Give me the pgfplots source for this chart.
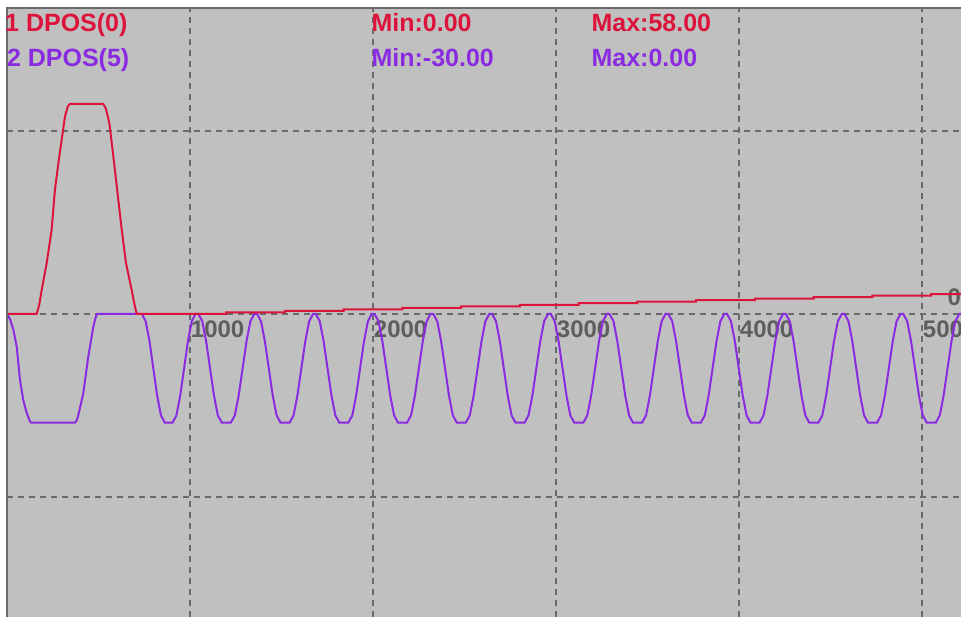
\documentclass[border=0pt]{standalone}
\usepackage{fontspec}
\setmainfont{Liberation Sans}
\usepackage{pgfplots}
\pgfplotsset{compat=1.18}
\definecolor{bg}{HTML}{C0C0C0}
\definecolor{gridc}{HTML}{6A6A6A}
\definecolor{cred}{HTML}{DC143C}
\definecolor{cpur}{HTML}{8A2BE2}
\definecolor{lbl}{HTML}{5E5E5E}
\definecolor{frame}{HTML}{6A6A6A}
\begin{document}
\begin{tikzpicture}
\useasboundingbox (0pt,0pt) rectangle (480.5pt,308.5pt);
\fill[white] (0pt,0pt) rectangle (480.5pt,308.5pt);
\clip (0pt,0pt) rectangle (480.5pt,308.5pt);
\begin{axis}[
  at={(3.5pt,0pt)}, anchor=south west,
  scale only axis, width=477pt, height=304.5pt,
  xmin=0, xmax=5213, ymin=-83.7, ymax=84.5,
  axis background/.style={fill=bg},
  axis x line*=middle,
  axis line style={draw=none},
  xtick={1000,2000,3000,4000,5000},
  xticklabels={1000,2000,3000,4000,5000},
  ytick={-50.5,0,50.5},
  yticklabels={,0,},
  yticklabel pos=right,
  major tick length=0pt,
  tick style={draw=none},
  xticklabel style={anchor=north west, inner sep=0pt, xshift=0.25pt, yshift=-3pt, text=lbl, font=\bfseries\fontsize{12}{14}\selectfont},
  yticklabel style={anchor=south east, inner sep=0pt, xshift=0.15pt, yshift=4pt, text=lbl, font=\bfseries\fontsize{12}{14}\selectfont},
  grid=major,
  major grid style={gridc, line width=1pt, dash pattern=on 3pt off 2.5pt},
  clip=true,
]
% purple: DPOS(5)
\addplot[cpur, line width=1pt] coordinates {
(0,0) (18,-1.6) (35,-4.4) (53,-9) (71,-18.2) (89,-23.8) (108,-27.4) (126,-29.7) (132,-30)
(372,-30) (381,-29.4) (390,-27.9) (417,-21.9) (444,-11.8) (472,-3.5) (484,-1) (492,0)
(737,0) (757.8,-2.01) (778.7,-7.5) (799.5,-15) (820.3,-22.5) (841.2,-27.99) (862,-30)
(905,-30) (925.9,-27.99) (946.8,-22.5) (967.8,-15) (988.7,-7.5) (1009.6,-2.01) (1030.5,0)
(1045.5,0) (1067,-2.01) (1088,-7.5) (1109.5,-15) (1131,-22.5) (1152,-27.99) (1173.5,-30) (1223.5,-30) (1245,-27.99) (1266,-22.5) (1287.5,-15) (1309,-7.5) (1330,-2.01) (1351.5,0)
(1366.5,0) (1388,-2.01) (1409,-7.5) (1430.5,-15) (1452,-22.5) (1473,-27.99) (1494.5,-30) (1544.5,-30) (1566,-27.99) (1587,-22.5) (1608.5,-15) (1630,-7.5) (1651,-2.01) (1672.5,0)
(1687.5,0) (1709,-2.01) (1730,-7.5) (1751.5,-15) (1773,-22.5) (1794,-27.99) (1815.5,-30) (1865.5,-30) (1887,-27.99) (1908,-22.5) (1929.5,-15) (1951,-7.5) (1972,-2.01) (1993.5,0)
(2008.5,0) (2030,-2.01) (2051,-7.5) (2072.5,-15) (2094,-22.5) (2115,-27.99) (2136.5,-30) (2186.5,-30) (2208,-27.99) (2229,-22.5) (2250.5,-15) (2272,-7.5) (2293,-2.01) (2314.5,0)
(2329.5,0) (2351,-2.01) (2372,-7.5) (2393.5,-15) (2415,-22.5) (2436,-27.99) (2457.5,-30) (2507.5,-30) (2529,-27.99) (2550,-22.5) (2571.5,-15) (2593,-7.5) (2614,-2.01) (2635.5,0)
(2650.5,0) (2672,-2.01) (2693,-7.5) (2714.5,-15) (2736,-22.5) (2757,-27.99) (2778.5,-30) (2828.5,-30) (2850,-27.99) (2871,-22.5) (2892.5,-15) (2914,-7.5) (2935,-2.01) (2956.5,0)
(2971.5,0) (2993,-2.01) (3014,-7.5) (3035.5,-15) (3057,-22.5) (3078,-27.99) (3099.5,-30) (3149.5,-30) (3171,-27.99) (3192,-22.5) (3213.5,-15) (3235,-7.5) (3256,-2.01) (3277.5,0)
(3292.5,0) (3314,-2.01) (3335,-7.5) (3356.5,-15) (3378,-22.5) (3399,-27.99) (3420.5,-30) (3470.5,-30) (3492,-27.99) (3513,-22.5) (3534.5,-15) (3556,-7.5) (3577,-2.01) (3598.5,0)
(3613.5,0) (3635,-2.01) (3656,-7.5) (3677.5,-15) (3699,-22.5) (3720,-27.99) (3741.5,-30) (3791.5,-30) (3813,-27.99) (3834,-22.5) (3855.5,-15) (3877,-7.5) (3898,-2.01) (3919.5,0)
(3934.5,0) (3956,-2.01) (3977,-7.5) (3998.5,-15) (4020,-22.5) (4041,-27.99) (4062.5,-30) (4112.5,-30) (4134,-27.99) (4155,-22.5) (4176.5,-15) (4198,-7.5) (4219,-2.01) (4240.5,0)
(4255.5,0) (4277,-2.01) (4298,-7.5) (4319.5,-15) (4341,-22.5) (4362,-27.99) (4383.5,-30) (4433.5,-30) (4455,-27.99) (4476,-22.5) (4497.5,-15) (4519,-7.5) (4540,-2.01) (4561.5,0)
(4576.5,0) (4598,-2.01) (4619,-7.5) (4640.5,-15) (4662,-22.5) (4683,-27.99) (4704.5,-30) (4754.5,-30) (4776,-27.99) (4797,-22.5) (4818.5,-15) (4840,-7.5) (4861,-2.01) (4882.5,0)
(4897.5,0) (4919,-2.01) (4940,-7.5) (4961.5,-15) (4983,-22.5) (5004,-27.99) (5025.5,-30) (5075.5,-30) (5097,-27.99) (5118,-22.5) (5139.5,-15) (5161,-7.5) (5182,-2.01) (5203.5,0)
(5218.5,0) (5240,-2.01)
};
% red: DPOS(0)
\addplot[cred, line width=1pt] coordinates {
(0,0) (162,0) (176,2.5) (190,6.7) (217,14.1) (244,23.3) (262,34.3) (286,43.6) (299,48.2) (317,54.6) (332,57.3) (344,58)
(526,58) (540,56.8) (559,52.8) (581,43.6) (608,31.6) (627,23.3) (650,14.1) (681,6.7) (697,2.5) (709,0)
(1197,0) (1197,0.42) (1518,0.42) (1518,0.85) (1839,0.85) (1839,1.27) (2160,1.27) (2160,1.69)
(2481,1.69) (2481,2.12) (2802,2.12) (2802,2.54) (3123,2.54) (3123,2.96) (3444,2.96) (3444,3.38)
(3765,3.38) (3765,3.81) (4086,3.81) (4086,4.23) (4407,4.23) (4407,4.65) (4728,4.65) (4728,5.08)
(5049,5.08) (5049,5.5) (5213,5.5)
};
\end{axis}
\draw[frame, line width=1pt] (3.5pt,0pt) -- (3.5pt,304.5pt) -- (480.5pt,304.5pt);
\begin{scope}[every node/.style={anchor=base west, inner sep=0pt, font=\bfseries\fontsize{12.5}{14}\selectfont}]
\node[text=cred] at (2.4pt,292.5pt) {1 DPOS(0)};
\node[text=cpur] at (3.3pt,275pt) {2 DPOS(5)};
\node[text=cred] at (185.6pt,292.5pt) {Min:0.00};
\node[text=cpur] at (185.6pt,275pt) {Min:-30.00};
\node[text=cred] at (295.6pt,292.5pt) {Max:58.00};
\node[text=cpur] at (295.6pt,275pt) {Max:0.00};
\end{scope}
\end{tikzpicture}
\end{document}
